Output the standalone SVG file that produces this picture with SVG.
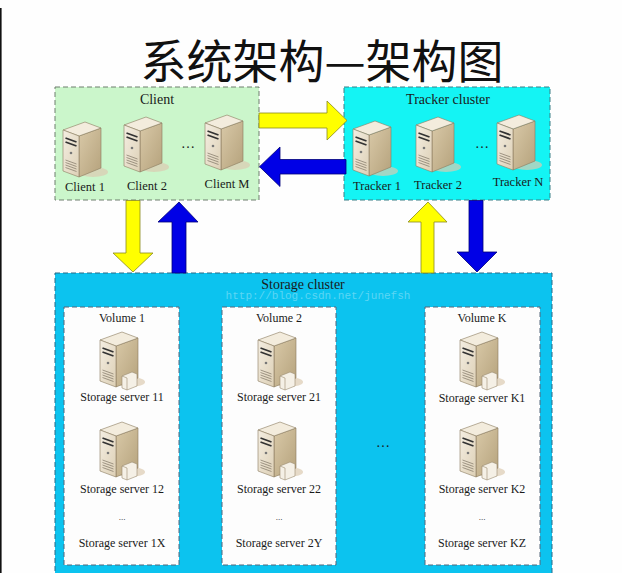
<svg xmlns="http://www.w3.org/2000/svg" xmlns:xlink="http://www.w3.org/1999/xlink" width="622" height="573" viewBox="0 0 622 573">
<style>
.t{font-family:"Liberation Serif","Times New Roman",serif;fill:#1a1a1a;text-anchor:middle}
.s12{font-size:12px}
.s13{font-size:12.5px}
.s14{font-size:14px}
.dots{font-size:9px}
.box{stroke-width:1;stroke-dasharray:5 3}
.ya{fill:#ffff00;stroke:#8a8a20;stroke-width:0.8}
.ba{fill:#0000e6;stroke:#00007a;stroke-width:0.8}
</style>
<defs>
<linearGradient id="gFront" x1="0" y1="0" x2="1" y2="1">
<stop offset="0" stop-color="#f4eee2"/><stop offset="1" stop-color="#ddd0b6"/>
</linearGradient>
<linearGradient id="gSide" x1="0" y1="0" x2="1" y2="1">
<stop offset="0" stop-color="#d9c9a8"/><stop offset="1" stop-color="#b5a27c"/>
</linearGradient>
<symbol id="srv" viewBox="0 0 46 56" overflow="visible">
<ellipse cx="30" cy="50" rx="15" ry="5" fill="#dccbb0" opacity="0.7"/>
<path d="M16,14 L38,6 L38,46 L16,55 Z" fill="url(#gSide)" stroke="#8a7a5e" stroke-width="0.6"/>
<path d="M0,8 L22,0 L38,6 L16,14 Z" fill="#f3ecdd" stroke="#8a7a5e" stroke-width="0.6"/>
<path d="M0,8 L16,14 L16,55 L0,49 Z" fill="url(#gFront)" stroke="#8a7a5e" stroke-width="0.6"/>
<path d="M2.5,16 L13.5,20 M2.5,20 L13.5,24" stroke="#333" stroke-width="1.8"/>
<circle cx="8" cy="31" r="1.3" fill="#777"/>
<path d="M2.5,38 L13.5,42 M2.5,40.5 L13.5,44.5 M2.5,43 L13.5,47 M2.5,45.5 L13.5,49.5" stroke="#8a8070" stroke-width="0.8"/>
</symbol>
<symbol id="ssrv" viewBox="0 0 46 56" overflow="visible">
<use href="#srv" x="0" y="0" width="46" height="56"/>
<path d="M22,44 L32,40 L37,42 L37,54 L27,58 L22,56 Z" fill="#f5f0e6" stroke="#9a8b70" stroke-width="0.6"/>
<path d="M22,44 L27,46 L27,58" fill="none" stroke="#9a8b70" stroke-width="0.6"/>
</symbol>
</defs>
<rect x="0" y="0" width="622" height="573" fill="#fefefe"/>
<rect x="0" y="8" width="1.6" height="565" fill="#111"/>
<text x="322" y="78" font-family="'Noto Sans CJK SC','Noto Sans CJK JP',sans-serif" font-size="46" fill="#111" text-anchor="middle">系统架构—架构图</text>

<g id="client">
<rect class="box" x="55" y="87" width="204" height="113" fill="#cbf6cb" stroke="#6f7f6f"/>
<text class="t s14" x="157" y="104">Client</text>
<use href="#srv" x="63" y="122" width="46" height="56"/>
<use href="#srv" x="124" y="117" width="46" height="56"/>
<use href="#srv" x="205" y="115" width="46" height="56"/>
<text class="t s14" x="188" y="148">…</text>
<text class="t s13" x="85" y="191">Client 1</text>
<text class="t s13" x="147" y="190">Client 2</text>
<text class="t s13" x="227" y="188">Client M</text>
</g>

<g id="tracker">
<rect class="box" x="344" y="87" width="206" height="113" fill="#14f4f4" stroke="#3a7f86"/>
<text class="t s14" x="448" y="104">Tracker cluster</text>
<use href="#srv" x="353" y="121" width="46" height="56"/>
<use href="#srv" x="416" y="117" width="46" height="56"/>
<use href="#srv" x="497" y="115" width="46" height="56"/>
<text class="t s14" x="482" y="148">…</text>
<text class="t s13" x="377" y="190">Tracker 1</text>
<text class="t s13" x="438" y="189">Tracker 2</text>
<text class="t s13" x="518" y="186">Tracker N</text>
</g>

<g id="storage">
<rect class="box" x="55" y="273" width="497" height="320" fill="#0cc3ef" stroke="#2a6a86"/>
<text class="t s14" x="303" y="289">Storage cluster</text>
<text x="318" y="299" font-family="'Liberation Mono','DejaVu Sans Mono',monospace" font-size="11" fill="#5cd6f4" text-anchor="middle">http://blog.csdn.net/junefsh</text>
<text class="t s14" x="383" y="447">…</text>
</g>

<g id="volume1">
<rect class="box" x="64" y="307" width="115" height="258" fill="#fdfdfd" stroke="#55667a"/>
<text class="t s12" x="122" y="322">Volume 1</text>
<use href="#ssrv" x="100" y="332" width="46" height="56"/>
<text class="t s12" x="122" y="401">Storage server 11</text>
<use href="#ssrv" x="100" y="422" width="46" height="56"/>
<text class="t s12" x="122" y="493">Storage server 12</text>
<text class="t dots" x="122" y="520">...</text>
<text class="t s12" x="122" y="547">Storage server 1X</text>
</g>

<g id="volume2">
<rect class="box" x="222" y="307" width="114" height="258" fill="#fdfdfd" stroke="#55667a"/>
<text class="t s12" x="279" y="322">Volume 2</text>
<use href="#ssrv" x="258" y="332" width="46" height="56"/>
<text class="t s12" x="279" y="401">Storage server 21</text>
<use href="#ssrv" x="258" y="422" width="46" height="56"/>
<text class="t s12" x="279" y="493">Storage server 22</text>
<text class="t dots" x="279" y="520">...</text>
<text class="t s12" x="279" y="547">Storage server 2Y</text>
</g>

<g id="volumeK">
<rect class="box" x="425" y="307" width="115" height="258" fill="#fdfdfd" stroke="#55667a"/>
<text class="t s12" x="482" y="322">Volume K</text>
<use href="#ssrv" x="460" y="332" width="46" height="56"/>
<text class="t s12" x="482" y="402">Storage server K1</text>
<use href="#ssrv" x="460" y="422" width="46" height="56"/>
<text class="t s12" x="482" y="493">Storage server K2</text>
<text class="t dots" x="482" y="520">...</text>
<text class="t s12" x="482" y="547">Storage server KZ</text>
</g>

<g id="connectors">
<polygon class="ya" points="259,113 327,113 327,101 347,120.5 327,140 327,128 259,128"/>
<polygon class="ba" points="346,159.5 280,159.5 280,147 259.5,166.7 280,186.5 280,174 346,174"/>
<polygon class="ya" points="126,200.5 140,200.5 140,253 153,253 133,272 113,253 126,253"/>
<polygon class="ba" points="172,273 186,273 186,222 198,222 179,202 158,222 172,222"/>
<polygon class="ya" points="421,273 434,273 434,222 447,222 428,202 408,222 421,222"/>
<polygon class="ba" points="469,200.5 483,200.5 483,252 497,252 477,272 457,252 469,252"/>
</g>
</svg>
